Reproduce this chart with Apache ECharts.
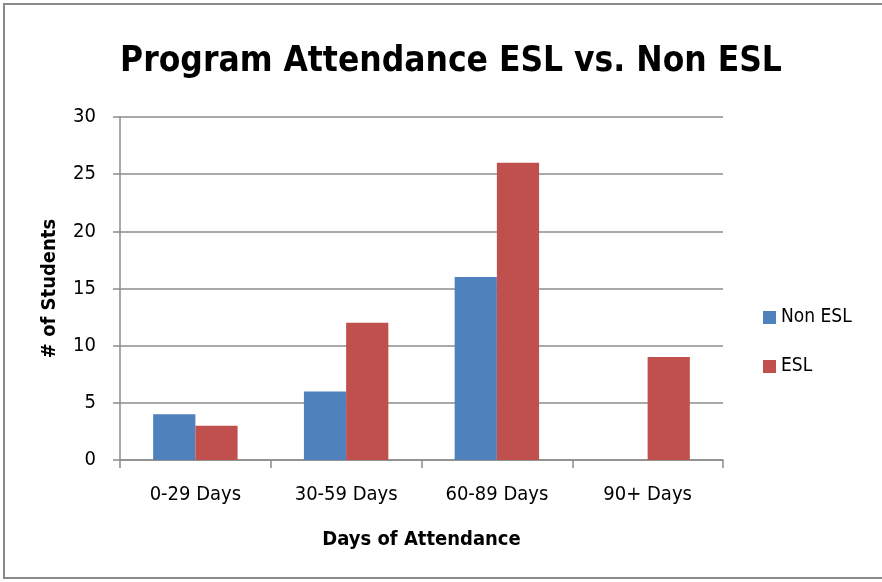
<!DOCTYPE html>
<html>
<head>
<meta charset="utf-8">
<script src="https://cdn.jsdelivr.net/npm/echarts@6/dist/echarts.min.js"></script>
<style>
  html, body { margin: 0; padding: 0; background: #fff; }
  #chart { position: absolute; left: 3px; top: 3px; width: 882px; height: 576px; box-sizing: border-box;
           border: 2px solid #8a8a8a; border-right: none; }
</style>
</head>
<body>
<div id="chart"></div>
<script>
// data
var categories = ['0-29 Days', '30-59 Days', '60-89 Days', '90+ Days'];
var nonEsl = [4, 6, 16, null];
var esl = [3, 12, 26, 9];

var fontFamily = '"Liberation Sans Narrow", "DejaVu Sans Condensed", Roboto, sans-serif';

var chart = echarts.init(document.getElementById('chart'), null, { renderer: 'canvas' });

var option = {
    animation: false,
    textStyle: { fontFamily: fontFamily },
    title: {
        text: 'Program Attendance ESL vs. Non ESL',
        left: 441, top: 34, textAlign: 'center',
        textStyle: { fontSize: 35, fontWeight: 'bold', color: '#000', fontFamily: fontFamily }
    },
    legend: {
        orient: 'vertical',
        left: 753, top: 298,
        itemWidth: 13, itemHeight: 13, itemGap: 30,
        icon: 'rect',
        textStyle: { fontSize: 19, color: '#000', fontFamily: fontFamily },
        data: ['Non ESL', 'ESL']
    },
    grid: { left: 115, right: 162, top: 112, bottom: 117 },
    xAxis: {
        type: 'category',
        data: categories,
        name: 'Days of Attendance',
        nameLocation: 'middle',
        nameGap: 70,
        nameTextStyle: { fontSize: 20, fontWeight: 'bold', color: '#000', fontFamily: fontFamily },
        axisLine: { lineStyle: { color: '#8c8c8c', width: 1.5 } },
        axisTick: { show: true, length: 8, lineStyle: { color: '#8c8c8c', width: 1.5 } },
        axisLabel: { fontSize: 20, color: '#000', margin: 25 }
    },
    yAxis: {
        type: 'value',
        min: 0, max: 30, interval: 5,
        name: '# of Students',
        nameLocation: 'middle',
        nameGap: 60,
        nameRotate: 90,
        nameTextStyle: { fontSize: 20, fontWeight: 'bold', color: '#000', fontFamily: fontFamily },
        axisLine: { show: true, lineStyle: { color: '#8c8c8c', width: 1.5 } },
        axisTick: { show: true, length: 7, inside: false, lineStyle: { color: '#8c8c8c', width: 1.5 } },
        axisLabel: { fontSize: 20, color: '#000', margin: 24 },
        splitLine: { lineStyle: { color: '#8c8c8c', width: 1.5 } }
    },
    series: [{
        name: 'Non ESL',
        type: 'bar',
        data: nonEsl,
        barGap: '0%',
        barCategoryGap: '44%',
        itemStyle: { color: '#4f81bd' }
    }, {
        name: 'ESL',
        type: 'bar',
        data: esl,
        itemStyle: { color: '#c0504d' }
    }]
};
chart.setOption(option);
</script>
</body>
</html>
